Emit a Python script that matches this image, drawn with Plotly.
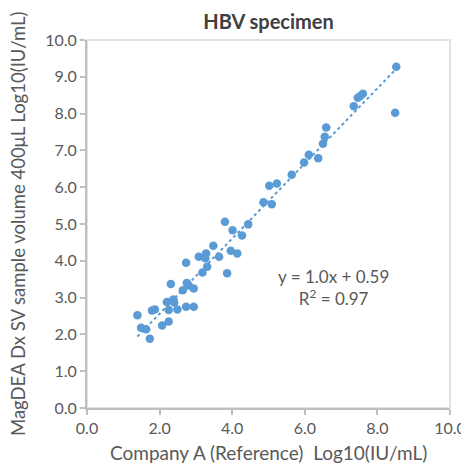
import numpy as np
import plotly.graph_objects as go

# Data
company_a = [1.39, 1.49, 1.63, 1.73, 1.79, 1.87, 2.07, 2.25, 2.25, 2.20,
             2.38, 2.40, 2.49, 2.31, 2.64, 2.75, 2.80, 2.73, 2.94, 2.94,
             2.73, 3.08, 3.28, 3.26, 3.31, 3.18, 3.48, 3.64, 3.86, 3.80,
             4.01, 4.27, 4.44, 3.96, 4.14, 4.86, 5.09, 5.02, 5.23, 5.64,
             5.98, 6.11, 6.37, 6.50, 6.55, 6.59, 7.35, 7.46, 7.52, 7.60,
             8.52, 8.49]
magdea = [2.52, 2.18, 2.14, 1.88, 2.65, 2.68, 2.24, 2.35, 2.66, 2.88,
          2.95, 2.87, 2.68, 3.37, 3.20, 3.40, 3.33, 2.75, 2.75, 3.25,
          3.95, 4.11, 4.20, 4.07, 3.84, 3.68, 4.41, 4.11, 3.66, 5.06,
          4.83, 4.69, 4.99, 4.27, 4.20, 5.59, 5.54, 6.04, 6.10, 6.34,
          6.67, 6.88, 6.79, 7.18, 7.37, 7.62, 8.20, 8.43, 8.47, 8.54,
          9.27, 8.02]
tick_vals = [0, 2, 4, 6, 8, 10]
tick_text = ["0.0", "2.0", "4.0", "6.0", "8.0", "10.0"]
ytick_vals = list(range(0, 11))
ytick_text = [f"{v:.1f}" for v in ytick_vals]
title_text = "HBV specimen"
x_title = "Company A (Reference)  Log10(IU/mL)"
y_title = "MagDEA Dx SV sample volume 400μL Log10(IU/mL)"
eq_text = "y = 1.0x + 0.59<br>R<sup>2</sup> = 0.97"

blue = "#5B9BD5"
grey = "#595959"
font = "Lato, 'Open Sans', sans-serif"

# page body has an 8px margin, so the figure is 8px smaller and offset
OFF = 8
W, H = 469 - OFF, 465 - OFF
L, R, T, B = 87 - OFF, 19, 40 - OFF, 57
pw, ph = W - L - R, H - T - B

xa = np.array(company_a)
ya = np.array(magdea)
slope, intercept = np.polyfit(xa, ya, 1)
tx = np.array([xa.min(), xa.max()])
ty = slope * tx + intercept

fig = go.Figure()
fig.add_trace(go.Scatter(x=tx, y=ty, mode="lines",
                         line=dict(color=blue, width=2, dash="dot"),
                         hoverinfo="skip", showlegend=False))
fig.add_trace(go.Scatter(x=company_a, y=magdea, mode="markers",
                         marker=dict(color=blue, size=8.5, line=dict(width=0)),
                         showlegend=False))

fig.add_annotation(x=6.8, y=3.27, xref="x", yref="y", text=eq_text,
                   showarrow=False, align="center",
                   font=dict(family=font, size=17, color=grey))
# axis titles
fig.add_annotation(x=0.5, y=-(452 - OFF - (H - B)) / ph, xref="paper", yref="paper",
                   text=x_title, showarrow=False, xanchor="center", yanchor="middle",
                   font=dict(family=font, size=19, color=grey))
fig.add_annotation(x=-(L - (18 - OFF)) / pw, y=0.5, xref="paper", yref="paper",
                   text=y_title, showarrow=False, textangle=-90,
                   xanchor="center", yanchor="middle",
                   font=dict(family=font, size=18.5, color=grey))

fig.update_layout(
    width=W, height=H,
    margin=dict(l=L, r=R, t=T, b=B, autoexpand=False),
    paper_bgcolor="white", plot_bgcolor="white",
    title=dict(text=f"<b>{title_text}</b>", x=(L + W - R) / 2 / W, xanchor="center",
               y=1 - (22 - OFF) / H, yanchor="middle",
               font=dict(family=font, size=20, color="#404040")),
    font=dict(family=font, color=grey),
    shapes=[dict(type="rect", xref="paper", yref="paper", x0=0, y0=0, x1=1, y1=1,
                 line=dict(color="#D9D9D9", width=1.5), layer="below")],
)
fig.update_xaxes(range=[0, 10], tickvals=tick_vals, ticktext=tick_text,
                 showgrid=False, zeroline=False, showline=True, automargin=False,
                 linecolor="#BFBFBF", linewidth=2, ticks="outside",
                 ticklen=5, tickcolor="#BFBFBF", tickwidth=1.5,
                 tickfont=dict(family=font, size=16, color=grey))
fig.update_yaxes(range=[0, 10], tickvals=ytick_vals, ticktext=ytick_text,
                 showgrid=False, zeroline=False, showline=True, automargin=False,
                 linecolor="#BFBFBF", linewidth=2, ticks="outside",
                 ticklen=5, tickcolor="#BFBFBF", tickwidth=1.5,
                 tickfont=dict(family=font, size=16, color=grey))

fig.write_html("out.html")
